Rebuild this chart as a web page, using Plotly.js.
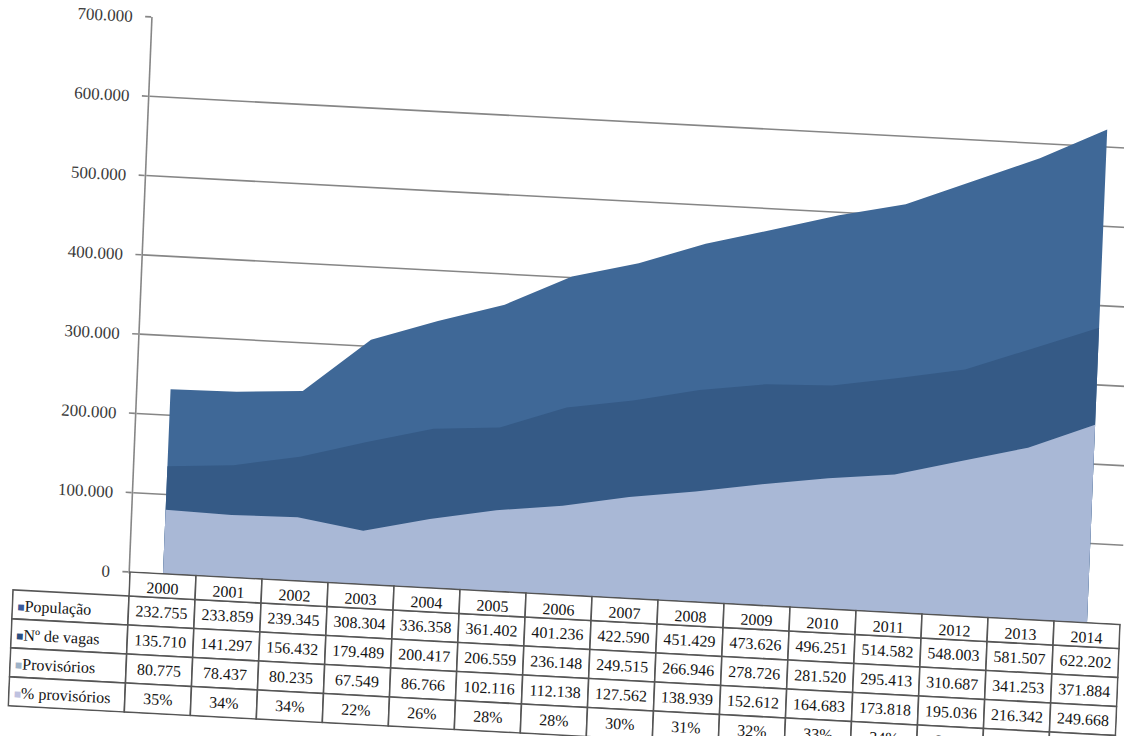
<!DOCTYPE html>
<html>
<head>
<meta charset="utf-8">
<script src="https://cdn.plot.ly/plotly-3.0.1.min.js"></script>
<style>
  html, body { margin: 0; padding: 0; background: #ffffff; overflow: hidden; width: 1124px; height: 736px; }
  #chart {
    position: absolute;
    left: -6px;
    top: -3px;
    width: 1146px;
    height: 735px;
    transform-origin: 136px 575px;
    transform: matrix(1, 0.053, -0.041, 1, 0, 0);
  }
  /* smooth edges for the slanted lines */
  #chart svg * { shape-rendering: geometricPrecision !important; }
</style>
</head>
<body>
<div id="chart"></div>
<script>
// Prison population in Brazil, 2000-2014
const years = ['2000','2001','2002','2003','2004','2005','2006','2007','2008','2009','2010','2011','2012','2013','2014'];
const populacao = [232755, 233859, 239345, 308304, 336358, 361402, 401236, 422590, 451429, 473626, 496251, 514582, 548003, 581507, 622202];
const vagas = [135710, 141297, 156432, 179489, 200417, 206559, 236148, 249515, 266946, 278726, 281520, 295413, 310687, 341253, 371884];
const provisorios = [80775, 78437, 80235, 67549, 86766, 102116, 112138, 127562, 138939, 152612, 164683, 173818, 195036, 216342, 249668];
const pctProvisorios = [35, 34, 34, 22, 26, 28, 28, 30, 31, 32, 33, 34, 36, 37, 40];

const seriesNames = ['População', 'Nº de vagas', 'Provisórios', '% provisórios'];
const areaColors = ['#3f6897', '#355a86', '#a9b8d6', '#c3c6e2'];
const keyColors = ['#3b5a9a', '#2c4f80', '#9fb3c8', '#c0c2e0'];

const gridColor = '#868686';
const serif = 'Liberation Serif, Times New Roman, serif';

// thousands separated with a dot
function fmt(n) {
  return String(n).replace(/\B(?=(\d{3})+(?!\d))/g, '.');
}

const plotWidth = 990;      // 15 category columns
const labelColWidth = 116;  // row-label column of the data table
const plotHeight = 555;
const headerH = 24;
const rowH = 29;
const tableHeight = headerH + 4 * rowH + 1;
const paperW = plotWidth + labelColWidth;
const paperH = plotHeight + tableHeight;

const areaValues = [populacao, vagas, provisorios, pctProvisorios.map(p => p / 100)];

const traces = areaValues.map((vals, i) => ({
  type: 'scatter',
  x: years,
  y: vals,
  name: seriesNames[i],
  mode: 'none',
  fill: 'tozeroy',
  fillcolor: areaColors[i],
  xaxis: 'x',
  yaxis: 'y',
  hoverinfo: 'skip'
}));

// data table under the plot; the row-label column is filled with legend labels below
const columns = [seriesNames.map(() => '')];
years.forEach((y, j) => {
  columns.push([
    fmt(populacao[j]),
    fmt(vagas[j]),
    fmt(provisorios[j]),
    pctProvisorios[j] + '%'
  ]);
});

const lineColor = '#555555';
traces.push({
  type: 'table',
  domain: { x: [0, 1], y: [0, tableHeight / paperH] },
  columnwidth: [labelColWidth].concat(years.map(() => plotWidth / years.length)),
  header: {
    values: [''].concat(years),
    height: headerH,
    align: 'center',
    fill: { color: ['rgba(0,0,0,0)'].concat(years.map(() => '#ffffff')) },
    line: { color: ['rgba(0,0,0,0)'].concat(years.map(() => lineColor)), width: 1.6 },
    font: { family: serif, size: 16, color: '#141414' }
  },
  cells: {
    values: columns,
    height: rowH,
    align: 'center',
    fill: { color: '#ffffff' },
    line: { color: lineColor, width: 1.6 },
    font: { family: serif, size: 16, color: '#141414' }
  }
});

// legend key + series name in each row-label cell
const rowLabels = seriesNames.map((n, i) => ({
  xref: 'paper',
  yref: 'paper',
  x: 3 / paperW,
  xanchor: 'left',
  y: (tableHeight - 1 - headerH - rowH * (i + 0.5)) / paperH,
  yanchor: 'middle',
  showarrow: false,
  text: '<span style="color:' + keyColors[i] + ';font-size:12px">■</span>' + n,
  font: { family: serif, size: 16, color: '#141414' }
}));

const layout = {
  width: 1146,
  height: 735,
  margin: { l: 20, r: 20, t: 20, b: 19 },
  paper_bgcolor: '#ffffff',
  plot_bgcolor: '#ffffff',
  showlegend: false,
  separators: ',.',
  font: { family: serif, size: 16, color: '#333333' },
  annotations: rowLabels,
  xaxis: {
    type: 'category',
    domain: [labelColWidth / paperW, 1],
    anchor: 'y',
    range: [-0.5, years.length - 0.5],
    showticklabels: false,
    showgrid: false,
    zeroline: false,
    showline: true,
    linecolor: gridColor,
    linewidth: 1.6,
    ticks: ''
  },
  yaxis: {
    domain: [tableHeight / paperH, 1],
    anchor: 'x',
    range: [0, 700000],
    dtick: 100000,
    tickformat: ',d',
    showgrid: true,
    gridcolor: gridColor,
    gridwidth: 1.6,
    zeroline: false,
    showline: true,
    linecolor: gridColor,
    linewidth: 1.6,
    ticks: 'outside',
    ticklen: 6,
    tickwidth: 1.6,
    tickcolor: gridColor,
    ticklabelstandoff: 9,
    tickfont: { family: serif, size: 17, color: '#3a3a3a' },
    layer: 'below traces'
  }
};

Plotly.newPlot('chart', traces, layout, { staticPlot: true, displayModeBar: false });
</script>
</body>
</html>
